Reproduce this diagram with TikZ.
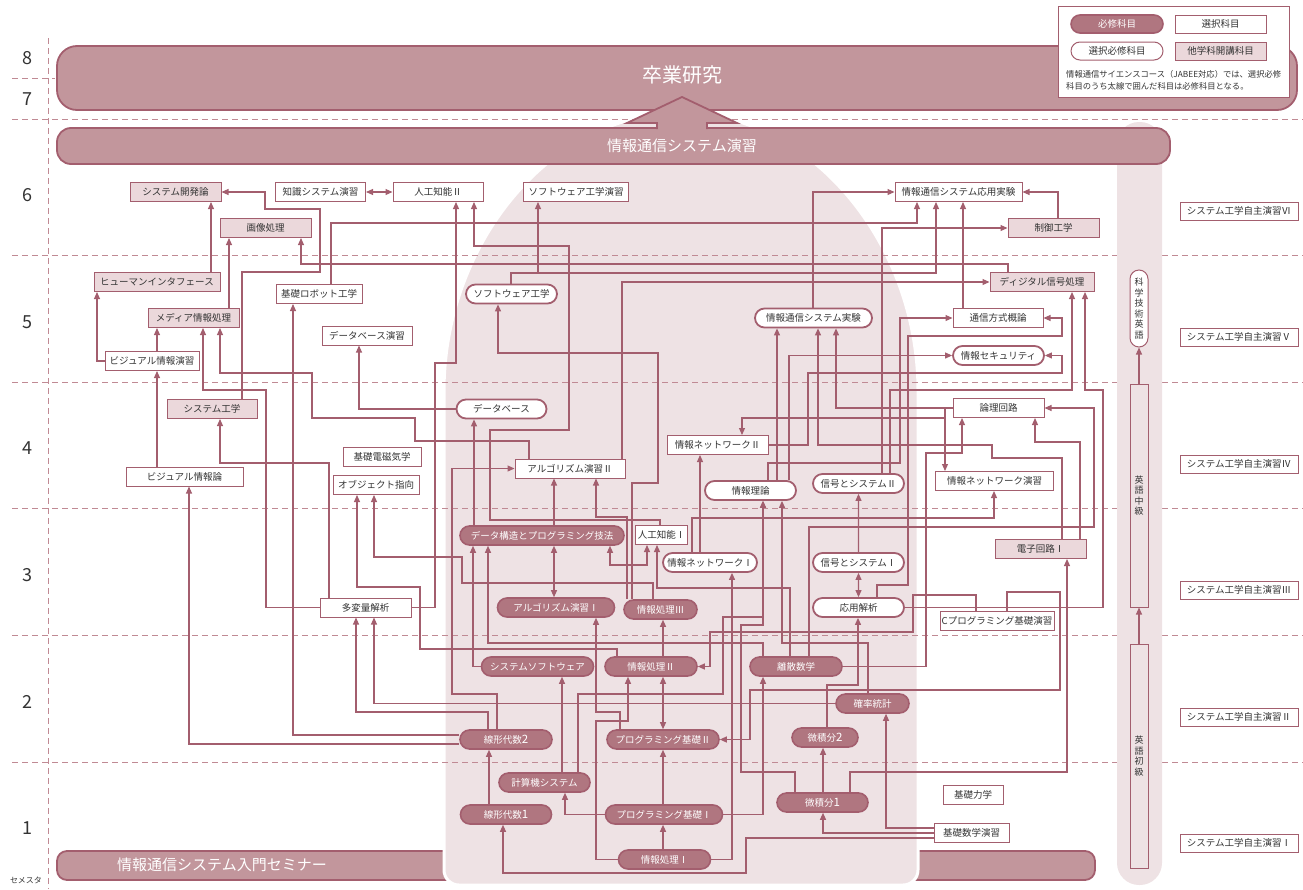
\documentclass[tikz,border=0pt]{standalone}
\usepackage{fontspec}
\setmainfont{Noto Sans CJK JP}
\usetikzlibrary{shapes.misc,arrows.meta}
\definecolor{lc}{HTML}{A35E6E}
\definecolor{reqf}{HTML}{B07680}
\definecolor{banf}{HTML}{C2969C}
\definecolor{lbg}{HTML}{EEE2E4}
\definecolor{othf}{HTML}{EBD8DB}
\definecolor{dashc}{HTML}{C08A94}
\definecolor{txt}{HTML}{333333}
\pgfdeclarelayer{bgl}
\pgfdeclarelayer{lin}
\pgfsetlayers{bgl,lin,main}
\newcommand{\bigd}[1]{{\fontsize{11.5}{11}\selectfont #1}}
\tikzset{
  nbase/.style={font=\fontsize{9.5}{11}\selectfont, minimum height=19pt, inner sep=0pt, text=txt},
  req/.style={nbase, rounded rectangle, fill=reqf, draw=lc, line width=1.6pt, text=white},
  sel/.style={nbase, rounded rectangle, fill=white, draw=lc, line width=1.8pt},
  selthin/.style={nbase, rounded rectangle, fill=white, draw=lc, line width=1pt},
  ele/.style={nbase, rectangle, fill=white, draw=lc, line width=1pt},
  oth/.style={nbase, rectangle, fill=othf, draw=lc, line width=1pt},
  mytip/.tip={Triangle[length=7pt,width=6pt]},
  arr/.style={draw=lc, line width=1.1pt, -mytip},
  darr/.style={draw=lc, line width=1.1pt, mytip-mytip},
  semdash/.style={draw=dashc, line width=0.9pt, dash pattern=on 6pt off 4pt},
  semnum/.style={font=\fontsize{18}{20}\selectfont, text=txt},
  seb/.style={ele, minimum width=118pt, minimum height=18pt},
  vbox/.style={draw=lc, line width=1pt, minimum width=18pt, inner sep=0pt, align=center, font=\fontsize{9}{10.5}\selectfont, text=txt},
}
\begin{document}
\begin{tikzpicture}[x=1pt,y=-1pt]
\useasboundingbox (0,0) rectangle (1303,889);

\begin{pgfonlayer}{bgl}
\path[fill=banf,draw=lc,line width=1.8pt,rounded corners=10pt] (57,851) rectangle (1095,880);
\path[fill=lbg,draw=white,line width=3pt,rounded corners=15pt] (444,406) arc[start angle=180,end angle=0,x radius=237pt,y radius=293pt] -- (918,885) -- (444,885) -- cycle;
\foreach \yy in {119,255,382,508,635,762} \draw[semdash] (12,\yy) -- (1303,\yy);
\draw[semdash] (12,78) -- (55,78);
\draw[semdash] (48,38) -- (48,889);
\path[fill=lbg,rounded corners=22pt] (1117,122) rectangle (1162,885);
\path[fill=banf,draw=lc,line width=1.8pt,rounded corners=20pt] (57,46) rectangle (1297,110);
\path[fill=banf,draw=lc,line width=1.8pt,rounded corners=14pt] (57,128) rectangle (1170,164);
\path[fill=banf] (657,130) -- (657,123) -- (627,123) -- (682,97) -- (737,123) -- (707,123) -- (707,130) -- cycle;
\draw[lc,line width=1.8pt] (657,129) -- (657,123) -- (627,123) -- (682,97) -- (737,123) -- (707,123) -- (707,129);
\path[fill=white,draw=lc,line width=1pt] (1058,6) rectangle (1289,97);
\end{pgfonlayer}

\node[font=\fontsize{20}{24}\selectfont,text=white] (sotsu) at (682,75) {卒業研究};
\node[font=\fontsize{15}{18}\selectfont,text=white] (enshu) at (682,146) {情報通信システム演習};
\node[font=\fontsize{15}{18}\selectfont,text=white] (semi) at (222,865) {情報通信システム入門セミナー};

% legend
\node[req,minimum width=92pt,minimum height=18pt] (lg1) at (1117,24) {必修科目};
\node[ele,minimum width=91pt,minimum height=18pt] (lg2) at (1220.5,24) {選択科目};
\node[selthin,minimum width=92pt,minimum height=18pt] (lg3) at (1117,51) {選択必修科目};
\node[oth,minimum width=91pt,minimum height=18pt] (lg4) at (1220.5,51) {他学科開講科目};
\node[anchor=west,font=\fontsize{8.3}{9.5}\selectfont,text=txt,inner sep=0pt] (lgt1) at (1066,74) {情報通信サイエンスコース（JABEE対応）では、選択必修};
\node[anchor=west,font=\fontsize{8.3}{9.5}\selectfont,text=txt,inner sep=0pt] (lgt2) at (1066,86) {科目のうち太線で囲んだ科目は必修科目となる。};

% semester numbers
\node[semnum] (s8) at (27,58) {8};
\node[semnum] (s7) at (27,99) {7};
\node[semnum] (s6) at (27,195) {6};
\node[semnum] (s5) at (27,322) {5};
\node[semnum] (s4) at (27,448) {4};
\node[semnum] (s3) at (27,575) {3};
\node[semnum] (s2) at (27,702) {2};
\node[semnum] (s1) at (27,828) {1};
\node[font=\fontsize{8}{9}\selectfont,text=txt] (sem) at (26,880) {セメスタ};

% system engineering self study
\node[seb] (se6) at (1239,211) {システム工学自主演習Ⅵ};
\node[seb] (se5) at (1239,337) {システム工学自主演習Ⅴ};
\node[seb] (se4) at (1239,464) {システム工学自主演習Ⅳ};
\node[seb] (se3) at (1239,590) {システム工学自主演習Ⅲ};
\node[seb] (se2) at (1239,717) {システム工学自主演習Ⅱ};
\node[seb] (se1) at (1239,843) {システム工学自主演習Ⅰ};

% English column
\node[vbox,fill=white,rounded corners=9pt,minimum height=77pt] (sci) at (1139,308.5) {科\\学\\技\\術\\英\\語};
\node[vbox,fill=lbg,minimum height=223pt] (eng2) at (1139,495.5) {英\\語\\中\\級};
\node[vbox,fill=lbg,minimum height=224pt] (eng1) at (1139,756) {英\\語\\初\\級};

% courses
\node[oth,minimum width=91pt] (kaihatsu) at (175.5,192) {システム開発論};
\node[ele,minimum width=90pt] (chishiki) at (320.5,192) {知識システム演習};
\node[ele,minimum width=90pt] (ai2) at (438,192) {人工知能Ⅱ};
\node[ele,minimum width=105pt] (swex) at (576,192) {ソフトウェア工学演習};
\node[ele,minimum width=127pt] (ouyou) at (958.5,192) {情報通信システム応用実験};
\node[oth,minimum width=91pt] (gazou) at (265.5,228) {画像処理};
\node[oth,minimum width=91pt] (seigyo) at (1053.5,228) {制御工学};
\node[oth,minimum width=126pt] (human) at (157,282) {ヒューマンインタフェース};
\node[ele,minimum width=86pt] (robot) at (319,294) {基礎ロボット工学};
\node[sel,minimum width=91pt] (sw) at (511.5,294) {ソフトウェア工学};
\node[oth,minimum width=104pt] (dsp) at (1042,282) {ディジタル信号処理};
\node[oth,minimum width=91pt] (media) at (193.5,318) {メディア情報処理};
\node[sel,minimum width=117pt] (jikken) at (813.5,318) {情報通信システム実験};
\node[ele,minimum width=90pt] (tsushin) at (998,318) {通信方式概論};
\node[ele,minimum width=90pt] (dbex) at (367,335.5) {データベース演習};
\node[ele,minimum width=94pt] (visex) at (152,361) {ビジュアル情報演習};
\node[sel,minimum width=91pt] (sec) at (998.5,355.5) {情報セキュリティ};
\node[oth,minimum width=90pt] (syseng) at (212,409) {システム工学};
\node[sel,minimum width=90pt] (db) at (501.5,409) {データベース};
\node[ele,minimum width=91pt] (logic) at (998.5,408) {論理回路};
\node[ele,minimum width=101pt] (net2) at (717.5,445) {情報ネットワークⅡ};
\node[ele,minimum width=78pt] (emag) at (382,457) {基礎電磁気学};
\node[ele,minimum width=110pt] (alg2) at (570,468.5) {アルゴリズム演習Ⅱ};
\node[ele,minimum width=117pt] (vis) at (184.5,476.5) {ビジュアル情報論};
\node[ele,minimum width=86pt] (oop) at (376,485) {オブジェクト指向};
\node[sel,minimum width=91pt] (infth) at (750.5,490.5) {情報理論};
\node[sel,minimum width=91pt] (sig2) at (858.5,483.5) {信号とシステムⅡ};
\node[ele,minimum width=118pt] (netex) at (994.5,481) {情報ネットワーク演習};
\node[req,minimum width=164pt] (ds) at (542,535.5) {データ構造とプログラミング技法};
\node[ele,minimum width=52pt] (ai1) at (661.5,535) {人工知能Ⅰ};
\node[oth,minimum width=91pt] (elec1) at (1040.5,549) {電子回路Ⅰ};
\node[sel,minimum width=94pt] (net1) at (710,562.5) {情報ネットワークⅠ};
\node[sel,minimum width=91pt] (sig1) at (858.5,562.5) {信号とシステムⅠ};
\node[ele,minimum width=91pt] (multi) at (365.5,607.5) {多変量解析};
\node[req,minimum width=117pt] (alg1) at (556,607.5) {アルゴリズム演習Ⅰ};
\node[req,minimum width=73pt] (ip3) at (660.5,609.5) {情報処理Ⅲ};
\node[sel,minimum width=91pt] (anal) at (858.5,607.5) {応用解析};
\node[ele,minimum width=114pt] (cprog) at (997,621) {Cプログラミング基礎演習};
\node[req,minimum width=112pt] (syssw) at (537.5,666.5) {システムソフトウェア};
\node[req,minimum width=92pt] (ip2) at (651,666.5) {情報処理Ⅱ};
\node[req,minimum width=92pt] (disc) at (796,666.5) {離散数学};
\node[req,minimum width=73pt] (prob) at (872.5,703.5) {確率統計};
\node[req,minimum width=92pt] (la2) at (506,739.5) {線形代数\bigd{2}};
\node[req,minimum width=112pt] (pb2) at (663,739.5) {プログラミング基礎Ⅱ};
\node[req,minimum width=66pt] (calc2) at (825,737.5) {微積分\bigd{2}};
\node[req,minimum width=91pt] (comp) at (544.5,782.5) {計算機システム};
\node[req,minimum width=91pt] (la1) at (506,814.5) {線形代数\bigd{1}};
\node[req,minimum width=117pt] (pb1) at (664,814.5) {プログラミング基礎Ⅰ};
\node[req,minimum width=91pt] (calc1) at (822.5,802.5) {微積分\bigd{1}};
\node[ele,minimum width=60pt] (mech) at (973,795) {基礎力学};
\node[ele,minimum width=75pt] (mathex) at (971.5,833) {基礎数学演習};
\node[req,minimum width=92pt] (ip1) at (664.5,859.5) {情報処理Ⅰ};

\begin{pgfonlayer}{lin}
\draw[arr] (eng1) -- (eng2);
\draw[arr] (eng2) -- (sci);
\draw[darr] (chishiki.east) -- (ai2.west);
\draw[arr] (syseng.north -| 242,0) -- (242,272) -- (320,272) -- (320,209) -- (265,209) -- (265,192) -- (kaihatsu.east);
\draw[arr] (human.north -| 211,0) -- (kaihatsu.south -| 211,0);
\draw[arr] (media.north -| 229,0) -- (gazou.south -| 229,0);
\draw[arr] (dsp.north -| 1008,0) -- (1008,264) -- (301,264) -- (gazou.south -| 301,0);
\draw[arr] (robot.north -| 331,0) -- (331,223) -- (917,223) -- (ouyou.south -| 917,0);
\draw[arr] (sw.north -| 511,0) -- (511,273) -- (936,273) -- (ouyou.south -| 936,0);
\draw[arr] (sw.north -| 511,0) -- (511,273) -- (538,273) -- (swex.south -| 538,0);
\draw[arr] (jikken.north -| 813,0) -- (813,192) -- (ouyou.west);
\draw[arr] (seigyo.north -| 1058,0) -- (1058,192) -- (ouyou.east);
\draw[arr] (tsushin.north -| 963,0) -- (ouyou.south -| 963,0);
\draw[arr] (sig2.north -| 882,0) -- (882,228) -- (seigyo.west);
\draw[arr] (alg2.north -| 622,0) -- (622,282) -- (dsp.west);
\draw[arr] (multi.east) -- (435,607.5) -- (435,363) -- (456,363) -- (ai2.south -| 456,0);
\draw[arr] (ai1.north -| 660,0) -- (660,520) -- (490,520) -- (490,430) -- (569,430) -- (569,246) -- (474,246) -- (ai2.south -| 474,0);
\draw[arr] (sig2.north -| 890,0) -- (890,390) -- (1072,390) -- (dsp.south -| 1072,0);
\draw[arr] (anal.east) -- (1103,607.5) -- (1103,390) -- (1085,390) -- (dsp.south -| 1085,0);
\draw[arr] (visex.north -| 157,0) -- (media.south -| 157,0);
\draw[arr] (visex.west) -- (97,361) -- (human.south -| 97,0);
\draw[arr] (vis.north -| 157,0) -- (visex.south -| 157,0);
\draw[arr] (multi.west) -- (266,607.5) -- (266,390) -- (203,390) -- (media.south -| 203,0);
\draw[arr] (alg2.north -| 529,0) -- (529,441) -- (415,441) -- (415,418) -- (312,418) -- (312,373) -- (220,373) -- (media.south -| 220,0);
\draw[arr] (infth.north -| 777,0) -- (jikken.south -| 777,0);
\draw[arr] (elec1.north -| 1062,0) -- (1062,458) -- (992,458) -- (992,445) -- (818,445) -- (jikken.south -| 818,0);
\draw[arr] (logic.west) -- (836,408) -- (jikken.south -| 836,0);
\draw[arr] (infth.north -| 768,0) -- (768,463) -- (900,463) -- (900,318) -- (tsushin.west);
\draw[arr] (anal.north -| 877,0) -- (877,585) -- (908,585) -- (908,336) -- (1062,336) -- (1062,318) -- (tsushin.east);
\draw[arr] (infth.north -| 789,0) -- (789,355.5) -- (sec.west);
\draw[arr] (net2.east) -- (808,445) -- (808,373) -- (1062,373) -- (1062,355.5) -- (sec.east);
\draw[arr] (db.west) -- (359,409) -- (dbex.south -| 359,0);
\draw[arr] (la2.west |- 0,735) -- (293,735) -- (robot.south -| 293,0);
\draw[arr] (ip3.north -| 632,0) -- (632,483) -- (658,483) -- (658,353) -- (498,353) -- (sw.south -| 498,0);
\draw[arr] (multi.north -| 329,0) -- (329,463) -- (220,463) -- (syseng.south -| 220,0);
\draw[arr] (ds.north -| 474,0) -- (db.south -| 474,0);
\draw[arr] (la2.west |- 0,744) -- (189,744) -- (vis.south -| 189,0);
\draw[arr] (la2.north -| 497,0) -- (497,694) -- (452,694) -- (452,468.5) -- (alg2.west);
\draw[arr] (ds.north -| 554,0) -- (alg2.south -| 554,0);
\draw[arr] (ip3.north -| 627,0) -- (627,517) -- (596,517) -- (alg2.south -| 596,0);
\draw[arr] (627,565) -- (610,565) -- (ds.south -| 610,0);
\draw[arr] (627,565) -- (647,565) -- (ai1.south -| 647,0);
\draw[arr] (ip2.north -| 617,0) -- (617,649) -- (420,649) -- (420,587) -- (357,587) -- (oop.south -| 357,0);
\draw[arr] (ip3.north -| 653,0) -- (653,583) -- (462,583) -- (462,557) -- (374,557) -- (oop.south -| 374,0);
\draw[arr] (calc1.north -| 795,0) -- (795,772) -- (741,772) -- (741,625) -- (763,625) -- (infth.south -| 763,0);
\draw[arr] (comp.north -| 578,0) -- (578,694) -- (723,694) -- (723,617) -- (763,617) -- (infth.south -| 763,0);
\draw[arr] (prob.north -| 868,0) -- (868,643) -- (782,643) -- (infth.south -| 782,0);
\draw[arr] (sig1) -- (sig2);
\draw[arr] (net1.north -| 700,0) -- (net2.south -| 700,0);
\draw[arr] (net1.north -| 692,0) -- (692,518) -- (994,518) -- (netex.south -| 994,0);
\draw[arr] (disc.east) -- (926,666.5) -- (926,453) -- (962,453) -- (logic.south -| 962,0);
\draw[arr] (elec1.north -| 1080,0) -- (1080,442) -- (1035,442) -- (logic.south -| 1035,0);
\draw[arr] (disc.north -| 809,0) -- (809,527) -- (1094,527) -- (1094,408) -- (logic.east);
\draw[arr] (logic.west) -- (945,408) -- (netex.north -| 945,0);
\draw[arr] (945,418) -- (742,418) -- (net2.north -| 742,0);
\draw[darr] (ds.south -| 554,0) -- (alg1.north -| 554,0);
\draw[arr] (syssw.west) -- (473,666.5) -- (ds.south -| 473,0);
\draw[arr] (disc.north -| 763,0) -- (763,643) -- (488,643) -- (ds.south -| 488,0);
\draw[arr] (disc.north -| 790,0) -- (790,588) -- (657,588) -- (ai1.south -| 657,0);
\draw[arr] (ip1.east) -- (732,859.5) -- (net1.south -| 732,0);
\draw[darr] (sig1) -- (anal);
\draw[arr] (calc2.north -| 827,0) -- (827,685) -- (858,685) -- (anal.south -| 858,0);
\draw[arr] (calc1.north -| 850,0) -- (850,772) -- (1067,772) -- (elec1.south -| 1067,0);
\draw[arr] (la2.north -| 488,0) -- (488,712) -- (356,712) -- (multi.south -| 356,0);
\draw[arr] (prob.west) -- (374,703.5) -- (multi.south -| 374,0);
\draw[arr] (pb2.north -| 620,0) -- (620,712) -- (596,712) -- (alg1.south -| 596,0);
\draw[arr] (ip1.west) -- (596,859.5) -- (596,721) -- (628,721) -- (ip2.south -| 628,0);
\draw[arr] (comp.north -| 562,0) -- (syssw.south -| 562,0);
\draw[arr] (ip2.north -| 663,0) -- (ip3.south -| 663,0);
\draw[darr] (pb2.north -| 663,0) -- (ip2.south -| 663,0);
\draw[arr] (cprog.north -| 976,0) -- (976,595) -- (913,595) -- (913,632) -- (710,632) -- (710,666.5) -- (ip2.east);
\draw[arr] (cprog.north -| 1007,0) -- (1007,592) -- (1060,592) -- (1060,690) -- (750,690) -- (750,739.5) -- (pb2.east);
\draw[arr] (pb1.east) -- (763,814.5) -- (disc.south -| 763,0);
\draw[arr] (la1.north -| 489,0) -- (la2.south -| 489,0);
\draw[arr] (calc1.north -| 823,0) -- (calc2.south -| 823,0);
\draw[arr] (mathex.west |- 0,828) -- (886,828) -- (prob.south -| 886,0);
\draw[arr] (pb1.north -| 663,0) -- (pb2.south -| 663,0);
\draw[arr] (ip1.north -| 663,0) -- (pb1.south -| 663,0);
\draw[arr] (pb1.west) -- (565,814.5) -- (comp.south -| 565,0);
\draw[arr] (mathex.west |- 0,833) -- (823,833) -- (calc1.south -| 823,0);
\draw[arr] (mathex.west |- 0,838) -- (746,838) -- (746,873) -- (503,873) -- (la1.south -| 503,0);
\end{pgfonlayer}
\end{tikzpicture}
\end{document}
